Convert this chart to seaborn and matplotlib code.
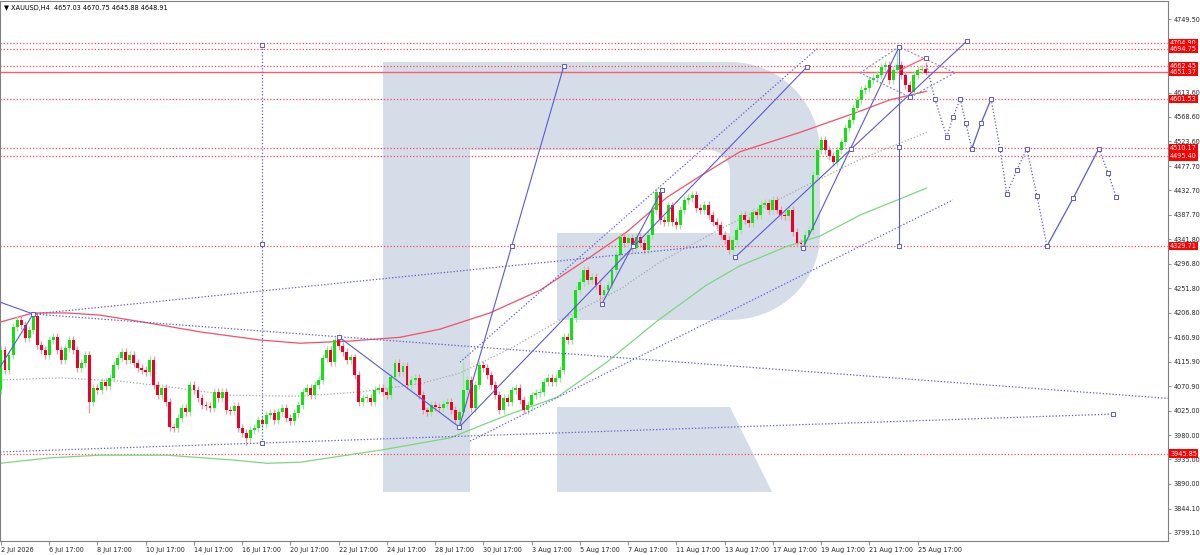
import numpy as np
import pandas as pd
import matplotlib
matplotlib.use("Agg")
import matplotlib.pyplot as plt
import matplotlib.transforms as mtransforms
from matplotlib.patches import Polygon
import seaborn as sns

# XAUUSD H4 closes (2 Jul .. 26 Aug 2026)
closes = [
    4137, 4101, 4128, 4180, 4193, 4184, 4160, 4174, 4200, 4147,
    4137, 4128, 4156, 4162, 4137, 4119, 4141, 4156, 4137, 4104,
    4113, 4128, 4041, 4067, 4064, 4078, 4071, 4086, 4110, 4123,
    4134, 4119, 4128, 4113, 4104, 4101, 4097, 4119, 4073, 4054,
    4067, 4041, 3995, 3993, 4012, 4030, 4023, 4073, 4064, 4049,
    4036, 4034, 4030, 4060, 4049, 4060, 4027, 4025, 4034, 3993,
    3984, 3975, 3990, 3993, 4008, 4001, 4017, 4021, 4008, 4023,
    4030, 4012, 4006, 4021, 4036, 4060, 4067, 4054, 4073, 4082,
    4123, 4137, 4115, 4156, 4145, 4134, 4119, 4124, 4091, 4041,
    4049, 4049, 4041, 4064, 4067, 4060, 4054, 4087, 4113, 4097,
    4108, 4073, 4082, 4086, 4054, 4026, 4023, 4036, 4032, 4030,
    4038, 4041, 4027, 4008, 4023, 4064, 4082, 4030, 4073, 4110,
    4104, 4091, 4073, 4054, 4027, 4049, 4041, 4064, 4067, 4045,
    4027, 4036, 4054, 4058, 4060, 4078, 4086, 4078, 4086, 4100,
    4162, 4156, 4197, 4248, 4263, 4285, 4267, 4272, 4258, 4239,
    4248, 4258, 4285, 4313, 4346, 4335, 4345, 4326, 4346, 4335,
    4322, 4350, 4396, 4430, 4378, 4374, 4405, 4374, 4369, 4396,
    4415, 4419, 4424, 4400, 4396, 4406, 4387, 4374, 4369, 4350,
    4341, 4322, 4341, 4359, 4387, 4378, 4372, 4393, 4387, 4406,
    4410, 4396, 4415, 4396, 4387, 4385, 4396, 4356, 4335, 4333,
    4350, 4359, 4461, 4507, 4526, 4507, 4496, 4485, 4507, 4522,
    4548, 4563, 4585, 4600, 4618, 4622, 4637, 4640, 4646, 4661,
    4664, 4637, 4655, 4664, 4646, 4627, 4615, 4646, 4655, 4657.03,
    4648.91,
]
first_open = 4064.0
wick = 7.0
# bars whose wick goes further than usual
high_spikes = {8: 4204, 83: 4162, 115: 4115, 163: 4437, 223: 4698, 230: 4670.75}
low_spikes = {22: 4021, 61: 3962, 114: 3995, 149: 4223, 182: 4309, 199: 4326,
              226: 4605, 230: 4645.88}

date_labels = ["2 Jul 2026", "6 Jul 17:00", "8 Jul 17:00", "10 Jul 17:00", "14 Jul 17:00",
               "16 Jul 17:00", "20 Jul 17:00", "22 Jul 17:00", "24 Jul 17:00", "28 Jul 17:00",
               "30 Jul 17:00", "3 Aug 17:00", "5 Aug 17:00", "7 Aug 17:00", "11 Aug 17:00",
               "13 Aug 17:00", "17 Aug 17:00", "19 Aug 17:00", "21 Aug 17:00", "25 Aug 17:00"]
price_ticks = [4749.50, 4613.60, 4568.60, 4523.60, 4477.70, 4432.70, 4387.70, 4341.80,
               4296.80, 4251.80, 4206.80, 4160.90, 4115.90, 4070.90, 4025.00, 3980.00,
               3935.00, 3890.00, 3844.10, 3799.10]
levels_dotted = [4704.90, 4694.75, 4662.45, 4601.53, 4510.17, 4495.40, 4329.71, 3945.85]
levels_solid = [4651.37]

# moving averages (bar, price)
ma_red_bar = [-0.25, 8, 16.4, 24.6, 37.1, 49.5, 64.4, 74.4, 86.8, 99.3, 109.2, 121.6,
              134.1, 146.5, 155.7, 165.7, 173.9, 183.8, 198.8, 212.9, 221.1, 230.3]
ma_red = [4189, 4206, 4206, 4202, 4187, 4171, 4156, 4150, 4154, 4161, 4176, 4206,
          4248, 4309, 4356, 4420, 4459, 4504, 4540, 4577, 4600, 4616]
ma_green_bar = [-0.25, 12.2, 24.6, 41.3, 57.7, 66.2, 74.4, 95.0, 111.7, 125.9, 138.3,
                150.7, 163.2, 175.6, 183.8, 195.5, 203.7, 213.7, 230.3]
ma_green = [3928, 3938, 3943, 3943, 3934, 3928, 3930, 3953, 3975, 4017, 4050,
            4115, 4191, 4258, 4293, 4329, 4348, 4387, 4437]
ma_gray_bar = [-0.25, 14.7, 29.6, 42.0, 57.0, 74.4, 89.3, 104.2, 114.2, 127.4, 139.1,
               154.0, 163.9, 178.9, 198.5, 213.7, 230.3]
ma_gray = [4082, 4086, 4080, 4069, 4054, 4052, 4060, 4075, 4095, 4143, 4193,
           4250, 4300, 4361, 4435, 4490, 4540]

# trend lines: (bar0, price0, bar1, price1)
solid_trends = [
    (-0.25, 4226, 8, 4204),
    (8, 4204, -0.25, 4106),
    (84, 4162, 114, 3995),
    (114, 3995, 140, 4662.45),
    (114, 3995, 200.5, 4661),
    (149.5, 4223, 164.4, 4433),
    (182.6, 4309, 240.3, 4709),
    (199.5, 4326, 223.4, 4698),
    (223.4, 4698, 223.4, 4329.71),
]
dotted_trends = [
    (8, 4204, 290.3, 4048),
    (8, 4204, 175.6, 4329.71),
    (-0.25, 3949, 276.6, 4019),
    (114.2, 4115, 203.0, 4694.75),
    (116.7, 3969, 236.8, 4415),
    (65, 4701, 65, 3965),
]
red_trend = (223.6, 4655, 230.3, 4679)
diamond_bar = [213.7, 223.4, 237.3, 226.1, 213.7]
diamond_price = [4650, 4698, 4650, 4605, 4650]

marker_bar = [8, 84, 114, 127, 140, 157.3, 200.5, 149.5, 164.4, 182.6, 211.5, 240.3,
              199.5, 223.4, 223.4, 223.4, 65, 65, 65, 276.6, 226.1, 230]
marker_price = [4204, 4162, 3995, 4329, 4662.45, 4329, 4661, 4223, 4433, 4309, 4510, 4709,
                4326, 4698, 4512, 4329.71, 4701, 4333, 3965, 4019, 4605, 4677]

# forecast path
fc_bar = [230.3, 232.3, 235.3, 236.8, 238.6, 240.0, 241.5, 243.8, 246.3, 248.5,
          250.2, 252.7, 255.2, 257.7, 260.2, 266.7, 273.1, 275.4, 277.4]
fc_price = [4664, 4601.5, 4531, 4568, 4601.5, 4557, 4510, 4557, 4601.5, 4510,
            4426, 4470, 4510, 4422, 4329.71, 4418, 4510, 4465, 4420]
fc_solid = [(6, 8), (14, 16)]

# ---------------------------------------------------------------
df = pd.DataFrame({"close": closes})
df["bar"] = np.arange(len(df))
df["open"] = df["close"].shift(1).fillna(first_open)
df["high"] = df[["open", "close"]].max(axis=1) + wick
df["low"] = df[["open", "close"]].min(axis=1) - wick
for k, v in high_spikes.items():
    df.loc[k, "high"] = max(v, max(df.loc[k, "open"], df.loc[k, "close"]))
for k, v in low_spikes.items():
    df.loc[k, "low"] = min(v, min(df.loc[k, "open"], df.loc[k, "close"]))
up = df["close"] >= df["open"]

sns.set_style("white")
plt.rcParams["font.family"] = ["DejaVu Sans"]

fig = plt.figure(figsize=(12, 5.55), dpi=100)
ax = fig.add_axes([0, 14 / 555, 1168 / 1200, 540 / 555])
ax.set_xlim(-0.25, 290.3)
ax.set_ylim(3784.3, 4782.8)

# watermark logo (figure pixels)
def px(pts):
    return [(x / 1200, 1 - y / 555) for x, y in pts]

logo_col = "#d5dde8"
ax.add_patch(Polygon(px([(383, 62), (470, 62), (470, 492), (383, 492)]),
                     closed=True, transform=fig.transFigure, fc=logo_col, ec="none", zorder=0))
t = np.linspace(0, np.pi / 2, 20)
bowl = [(470, 62), (730, 62)]
bowl += list(zip(730 + 90 * np.sin(t), 152 - 90 * np.cos(t)))
bowl += list(zip(730 + 90 * np.cos(t), 235 + 85 * np.sin(t)))
bowl += [(557, 320), (557, 233), (730, 233), (730, 172)]
bowl += list(zip(708 + 22 * np.cos(t), 172 - 22 * np.sin(t)))
bowl += [(470, 150)]
ax.add_patch(Polygon(px(bowl), closed=True, transform=fig.transFigure,
                     fc=logo_col, ec="none", zorder=0))
ax.add_patch(Polygon(px([(557, 407), (730, 407), (772, 492), (557, 492)]),
                     closed=True, transform=fig.transFigure, fc=logo_col, ec="none", zorder=0))

# horizontal levels
for lv in levels_dotted:
    ax.axhline(lv, color="#ff4a5a", ls=(0, (1, 1.6)), lw=0.9, zorder=1)
for lv in levels_solid:
    ax.axhline(lv, color="#ff5a6a", ls="-", lw=1.0, zorder=1)

# moving averages
sns.lineplot(x=ma_red_bar, y=ma_red, ax=ax, color="#f0506a", lw=0.9, sort=False, zorder=2)
sns.lineplot(x=ma_green_bar, y=ma_green, ax=ax, color="#7fd67f", lw=0.9, sort=False, zorder=2)
sns.lineplot(x=ma_gray_bar, y=ma_gray, ax=ax, color="#a8a8a8", lw=0.9, ls=(0, (1, 1.6)),
             sort=False, zorder=2)

# candles
wick_cols = np.where(up, "#9be89b", "#f3939f")
body_cols = np.where(up, "#14e014", "#ec0027")
ax.vlines(df["bar"], df["low"], df["high"], colors=wick_cols, lw=0.9, zorder=3)
body = (df["close"] - df["open"]).abs().clip(lower=1.8)
ax.bar(df["bar"], body, bottom=df[["open", "close"]].min(axis=1), width=0.72,
       color=body_cols, linewidth=0, zorder=4)

# trend lines
line_col = "#5a5ad2"
for b0, p0, b1, p1 in solid_trends:
    ax.plot([b0, b1], [p0, p1], color=line_col, lw=0.8, zorder=5)
for b0, p0, b1, p1 in dotted_trends:
    ax.plot([b0, b1], [p0, p1], color=line_col, lw=0.9, ls=(0, (1, 1.6)), zorder=5)
ax.plot(diamond_bar, diamond_price, color="#8a8ac8", lw=0.9, ls=(0, (1.5, 1.5)), zorder=5)
ax.plot(red_trend[::2], red_trend[1::2], color="#ff5a6a", lw=0.9, zorder=5)

# forecast zigzag
for j in range(len(fc_bar) - 1):
    solid = any(a <= j < b for a, b in fc_solid)
    ax.plot(fc_bar[j:j + 2], fc_price[j:j + 2], color=line_col, lw=0.9,
            ls="-" if solid else (0, (1, 1.6)), zorder=5)
ax.plot(fc_bar[1:], fc_price[1:], ls="none", marker="s", ms=2.6, mfc="white",
        mec=line_col, mew=0.7, zorder=6)
ax.plot(marker_bar, marker_price, ls="none", marker="s", ms=2.6, mfc="white",
        mec=line_col, mew=0.7, zorder=6)

# axes styling
for s in ax.spines.values():
    s.set_color("#808080")
    s.set_linewidth(0.8)
ax.yaxis.tick_right()
ax.set_yticks(price_ticks)
ax.set_yticklabels([f"{v:.2f}" for v in price_ticks])
ax.set_xticks(np.arange(len(date_labels)) * 12)
ax.set_xticklabels(date_labels)
for lbl in ax.get_xticklabels():
    lbl.set_ha("left")
ax.tick_params(axis="y", right=True, left=False, length=2.5, width=0.6, pad=1.5,
               labelsize=4.7, color="#808080", direction="out")
ax.tick_params(axis="x", bottom=True, length=3, width=0.6, pad=1.0,
               labelsize=4.7, color="#808080", direction="out")
ax.set_xlabel("")
ax.set_ylabel("")
ax.grid(False)

trans = mtransforms.blended_transform_factory(ax.transAxes, ax.transData)
for lv in levels_dotted + levels_solid:
    ax.text(1.0018, lv, f"{lv:.2f}", transform=trans, ha="left", va="center",
            fontsize=4.7, color="white", zorder=10, clip_on=False,
            bbox=dict(boxstyle="square,pad=0.18", fc="#ff0000", ec="none"))

ax.text(0.003, 0.992, "\u25bc XAUUSD,H4  4657.03 4670.75 4645.88 4648.91",
        transform=ax.transAxes, ha="left", va="top", fontsize=4.7, color="black")

fig.savefig("out.png", dpi=100)
plt.close(fig)
